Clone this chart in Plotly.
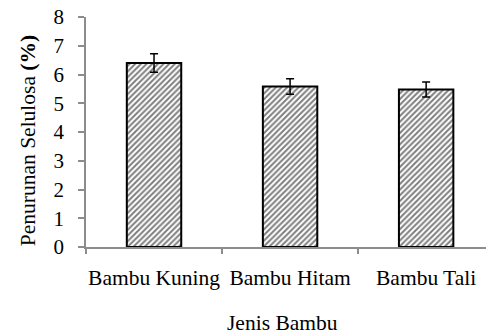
import plotly.graph_objects as go

# Cellulose reduction per bamboo type
categories = ["Bambu Kuning", "Bambu Hitam", "Bambu Tali"]
reduction = [6.40, 5.58, 5.48]
std_err = [0.32, 0.27, 0.26]

FONT = "Liberation Serif, Times New Roman, serif"
AXIS_GREY = "#8c8c8c"

x_pos = list(range(len(categories)))

fig = go.Figure()
fig.add_trace(go.Bar(
    x=x_pos,
    y=reduction,
    width=0.4,
    marker=dict(
        color="white",
        line=dict(color="black", width=2),
        pattern=dict(shape="/", size=4, solidity=0.5, fgcolor="black", bgcolor="white"),
    ),
    error_y=dict(type="data", array=std_err, visible=True, color="black", thickness=1.5, width=4),
    showlegend=False,
))

# invisible trace on the overlay axis that carries the boundary tick marks
fig.add_trace(go.Scatter(x=[-0.5], y=[0], xaxis="x2", mode="markers",
                         marker=dict(opacity=0), showlegend=False, hoverinfo="skip"))

x_range = [-0.5, 2.44]
fig.update_layout(
    width=486, height=336,
    margin=dict(l=86, r=0, t=17, b=89),
    paper_bgcolor="white", plot_bgcolor="white",
    font=dict(family=FONT, size=21, color="black"),
    xaxis=dict(
        range=x_range, tickmode="array", tickvals=x_pos, ticktext=categories,
        ticks="", showline=True, linecolor=AXIS_GREY, linewidth=1.5,
        showgrid=False, zeroline=False, tickfont=dict(size=21.5),
        ticklabelstandoff=10,
    ),
    xaxis2=dict(
        range=x_range, overlaying="x", anchor="y", side="bottom",
        tickmode="array", tickvals=[-0.5, 0.5, 1.5, 2.5], ticktext=["", "", "", ""],
        ticks="outside", ticklen=6, tickwidth=1.5, tickcolor=AXIS_GREY,
        showline=False, showgrid=False, zeroline=False,
    ),
    yaxis=dict(
        range=[0, 8], tickmode="linear", tick0=0, dtick=1,
        ticks="outside", ticklen=6, tickwidth=1.5, tickcolor=AXIS_GREY,
        showline=True, linecolor=AXIS_GREY, linewidth=1.5,
        showgrid=False, zeroline=False, tickfont=dict(size=21),
        ticklabelstandoff=10,
    ),
    annotations=[
        dict(text="Jenis Bambu", xref="paper", yref="paper", x=0.49, y=-0.33,
             xanchor="center", yanchor="middle", showarrow=False, font=dict(size=21.5)),
        dict(text="Penurunan Selulosa <b>(%)</b>", xref="paper", yref="paper",
             x=-0.145, y=0.46, xanchor="center", yanchor="middle", textangle=-90,
             showarrow=False, font=dict(size=21.5)),
    ],
)

fig.write_html("out.html")
